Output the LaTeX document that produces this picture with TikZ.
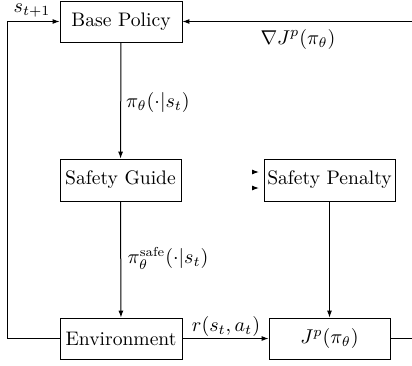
\documentclass[tikz,border=0pt]{standalone}
\usetikzlibrary{arrows.meta}
\begin{document}
\begin{tikzpicture}[x=0.5pt,y=-0.5pt,
  box/.style={draw, rectangle, inner sep=0pt, minimum height=20.5pt, font=\fontsize{9.8}{11}\selectfont},
  lbl/.style={inner sep=0pt, font=\fontsize{10}{12}\selectfont},
  conn/.style={line width=0.5pt, -{Latex[length=3.5pt,width=2.5pt]}}]
\useasboundingbox (0,0) rectangle (412,365);
\node[box, minimum width=61pt] (base) at (121,21.5) {Base Policy};
\node[box, minimum width=60.5pt, minimum height=21pt] (guide) at (120.5,180) {Safety Guide};
\node[box, minimum width=65.5pt, minimum height=21pt] (pen) at (329.5,180) {Safety Penalty};
\node[box, minimum width=61pt] (env) at (121,338.5) {Environment};
\node[box, minimum width=60.5pt, font=\fontsize{10}{12}\selectfont] (jp) at (329.5,338.5) {$J^p(\pi_\theta)$};
\coordinate (lb) at (7,338.5);
\coordinate (lt) at (7,21.5);
\coordinate (rb) at (416,338.5);
\coordinate (rt) at (416,21.5);
\draw[conn] (base) -- (guide);
\draw[conn] (guide) -- (env);
\draw[conn] (env) -- (jp);
\draw[conn] (pen) -- (jp);
\draw[conn] (env.west) -- (lb) -- (lt) -- (base.west);
\draw[conn] (jp.east) -- (rb) -- (rt) -- (base.east);
\coordinate (s1a) at (256,172);
\coordinate (s1b) at (259,172);
\coordinate (s2a) at (256,188);
\coordinate (s2b) at (259,188);
\draw[conn] (s1a) -- (s1b);
\draw[conn] (s2a) -- (s2b);
\node[lbl] (st) at (32,11) {$s_{t+1}$};
\node[lbl] (grad) at (298,39) {$\nabla J^p(\pi_\theta)$};
\node[lbl] (pi) at (158,102) {$\pi_\theta(\cdot|s_t)$};
\node[lbl] (pisafe) at (168,258) {$\pi_\theta^{\mbox{\fontsize{6.5}{8}\selectfont safe}}(\cdot|s_t)$};
\node[lbl] (r) at (226,326) {$r(s_t,a_t)$};
\end{tikzpicture}
\end{document}
